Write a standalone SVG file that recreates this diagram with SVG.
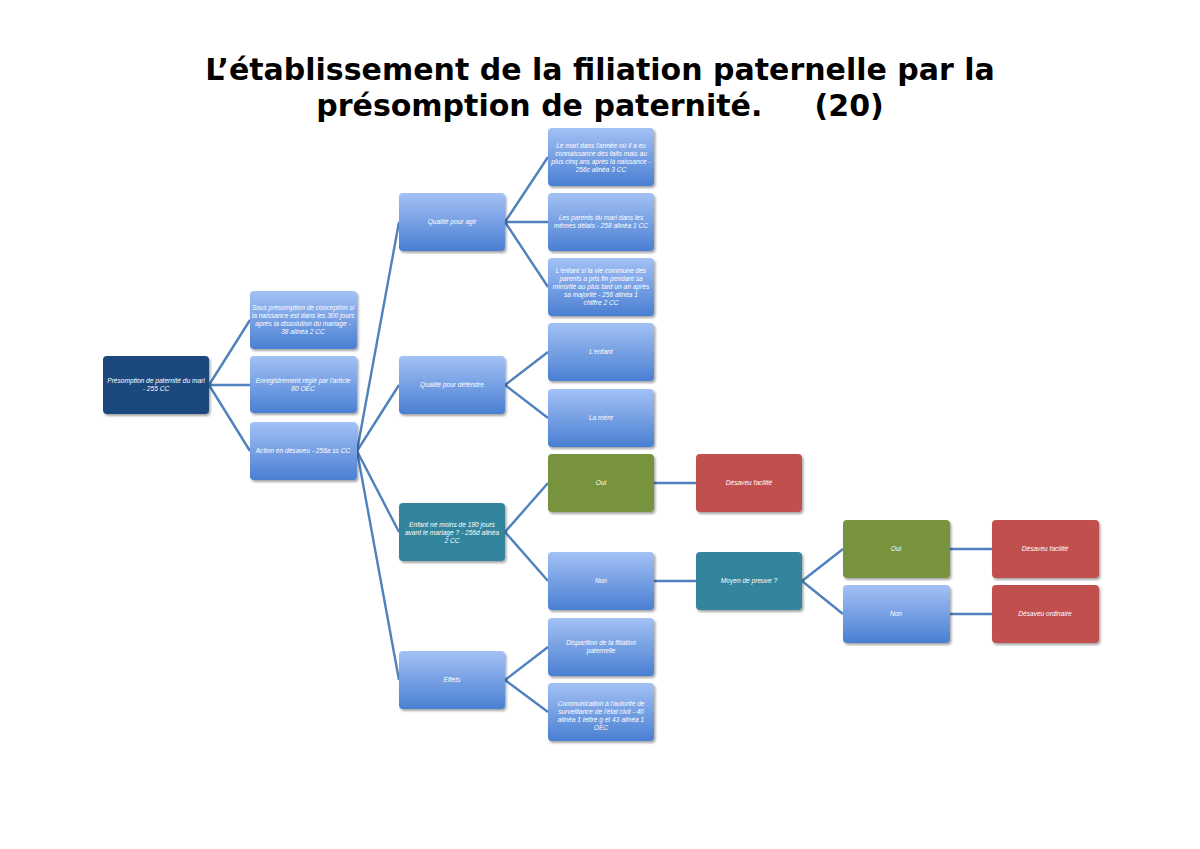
<svg xmlns="http://www.w3.org/2000/svg" width="1200" height="849" viewBox="0 0 1200 849">
<defs>
<linearGradient id="gb" x1="0" y1="0" x2="0" y2="1"><stop offset="0" stop-color="#A3C1F5"/><stop offset="1" stop-color="#4A7FD2"/></linearGradient>
<filter id="sh" x="-10%" y="-10%" width="130%" height="130%"><feDropShadow dx="1.5" dy="2" stdDeviation="1.2" flood-color="#000" flood-opacity="0.35"/></filter>
</defs>
<style>
.n rect{rx:4;filter:url(#sh)}
.b{fill:url(#gb)}.d{fill:#1F497D}.t{fill:#31859C}.g{fill:#77933C}.r{fill:#C0504D}
.n text{font-family:"Liberation Sans",Arial,sans-serif;font-size:6.6px;font-style:italic;fill:#fff;text-anchor:middle}
.c line{stroke:#4F81BD;stroke-width:2.4}
.title{font-family:"DejaVu Sans",sans-serif;font-weight:bold;font-size:30px;text-anchor:middle;fill:#000}
</style>
<rect width="1200" height="849" fill="#fff"/>
<text class="title" x="600" y="80">L’établissement de la filiation paternelle par la</text>
<text class="title" x="600" y="116" xml:space="preserve">présomption de paternité.     (20)</text>
<g class="c">
<line x1="209" y1="385" x2="250" y2="320"/><line x1="209" y1="385" x2="250" y2="385"/><line x1="209" y1="385" x2="250" y2="451"/>
<line x1="357" y1="451" x2="399" y2="222"/><line x1="357" y1="451" x2="399" y2="385"/><line x1="357" y1="451" x2="399" y2="532"/><line x1="357" y1="451" x2="399" y2="680"/>
<line x1="505" y1="222" x2="548" y2="157"/><line x1="505" y1="222" x2="548" y2="222"/><line x1="505" y1="222" x2="548" y2="287"/>
<line x1="505" y1="385" x2="548" y2="352"/><line x1="505" y1="385" x2="548" y2="418"/>
<line x1="505" y1="532" x2="548" y2="483"/><line x1="505" y1="532" x2="548" y2="581"/>
<line x1="505" y1="680" x2="548" y2="647"/><line x1="505" y1="680" x2="548" y2="712"/>
<line x1="654" y1="483" x2="696" y2="483"/><line x1="654" y1="581" x2="696" y2="581"/>
<line x1="802" y1="581" x2="843" y2="549"/><line x1="802" y1="581" x2="843" y2="614"/>
<line x1="950" y1="549" x2="992" y2="549"/><line x1="950" y1="614" x2="992" y2="614"/>
</g>
<g id="root" class="n"><rect class="d" x="103" y="356" width="106" height="58"/><text x="156" y="383">Présomption de paternité du mari</text><text x="156" y="391">- 255 CC</text></g>
<g id="n2a" class="n"><rect class="b" x="250" y="291" width="107" height="58"/><text x="303" y="310">Sous présomption de conception si</text><text x="303" y="318">la naissance est dans les 300 jours</text><text x="303" y="326">après la dissolution du mariage -</text><text x="303" y="334">38 alinéa 2 CC</text></g>
<g id="n2b" class="n"><rect class="b" x="250" y="356" width="107" height="57"/><text x="303" y="383">Enregistrement réglé par l'article</text><text x="303" y="391">80 OEC</text></g>
<g id="n2c" class="n"><rect class="b" x="250" y="422" width="107" height="58"/><text x="303" y="453">Action en désaveu - 256a ss CC</text></g>
<g id="n3a" class="n"><rect class="b" x="399" y="193" width="106" height="58"/><text x="452" y="224">Qualité pour agir</text></g>
<g id="n3b" class="n"><rect class="b" x="399" y="356" width="106" height="58"/><text x="452" y="387">Qualité pour défendre</text></g>
<g id="n3c" class="n"><rect class="t" x="399" y="503" width="106" height="58"/><text x="452" y="527">Enfant né moins de 180 jours</text><text x="452" y="535">avant le mariage ? - 256d alinéa</text><text x="452" y="543">2 CC</text></g>
<g id="n3d" class="n"><rect class="b" x="399" y="651" width="106" height="58"/><text x="452" y="682">Effets</text></g>
<g id="n4a" class="n"><rect class="b" x="548" y="128" width="106" height="58"/><text x="601" y="148">Le mari dans l'année où il a eu</text><text x="601" y="156">connaissance des faits mais au</text><text x="601" y="164">plus cinq ans après la naissance -</text><text x="601" y="172">256c alinéa 3 CC</text></g>
<g id="n4b" class="n"><rect class="b" x="548" y="193" width="106" height="58"/><text x="601" y="220">Les parents du mari dans les</text><text x="601" y="228">mêmes délais - 258 alinéa 1 CC</text></g>
<g id="n4c" class="n"><rect class="b" x="548" y="258" width="106" height="58"/><text x="601" y="273">L'enfant si la vie commune des</text><text x="601" y="281">parents a pris fin pendant sa</text><text x="601" y="289">minorité au plus tard un an après</text><text x="601" y="297">sa majorité - 256 alinéa 1</text><text x="601" y="305">chiffre 2 CC</text></g>
<g id="n4d" class="n"><rect class="b" x="548" y="323" width="106" height="58"/><text x="601" y="354">L'enfant</text></g>
<g id="n4e" class="n"><rect class="b" x="548" y="389" width="106" height="58"/><text x="601" y="420">La mère</text></g>
<g id="n4f" class="n"><rect class="g" x="548" y="454" width="106" height="58"/><text x="601" y="485">Oui</text></g>
<g id="n4g" class="n"><rect class="b" x="548" y="552" width="106" height="58"/><text x="601" y="583">Non</text></g>
<g id="n4h" class="n"><rect class="b" x="548" y="618" width="106" height="58"/><text x="601" y="645">Disparition de la filiation</text><text x="601" y="653">paternelle</text></g>
<g id="n4i" class="n"><rect class="b" x="548" y="683" width="106" height="58"/><text x="601" y="706">Communication à l'autorité de</text><text x="601" y="714">surveillance de l'état civil - 40</text><text x="601" y="722">alinéa 1 lettre g et 43 alinéa 1</text><text x="601" y="730">OEC</text></g>
<g id="n5a" class="n"><rect class="r" x="696" y="454" width="106" height="58"/><text x="749" y="485">Désaveu facilité</text></g>
<g id="n5b" class="n"><rect class="t" x="696" y="552" width="106" height="58"/><text x="749" y="583">Moyen de preuve ?</text></g>
<g id="n6a" class="n"><rect class="g" x="843" y="520" width="107" height="58"/><text x="896" y="551">Oui</text></g>
<g id="n6b" class="n"><rect class="b" x="843" y="585" width="107" height="58"/><text x="896" y="616">Non</text></g>
<g id="n7a" class="n"><rect class="r" x="992" y="520" width="107" height="58"/><text x="1045" y="551">Désaveu facilité</text></g>
<g id="n7b" class="n"><rect class="r" x="992" y="585" width="107" height="58"/><text x="1045" y="616">Désaveu ordinaire</text></g>
</svg>
